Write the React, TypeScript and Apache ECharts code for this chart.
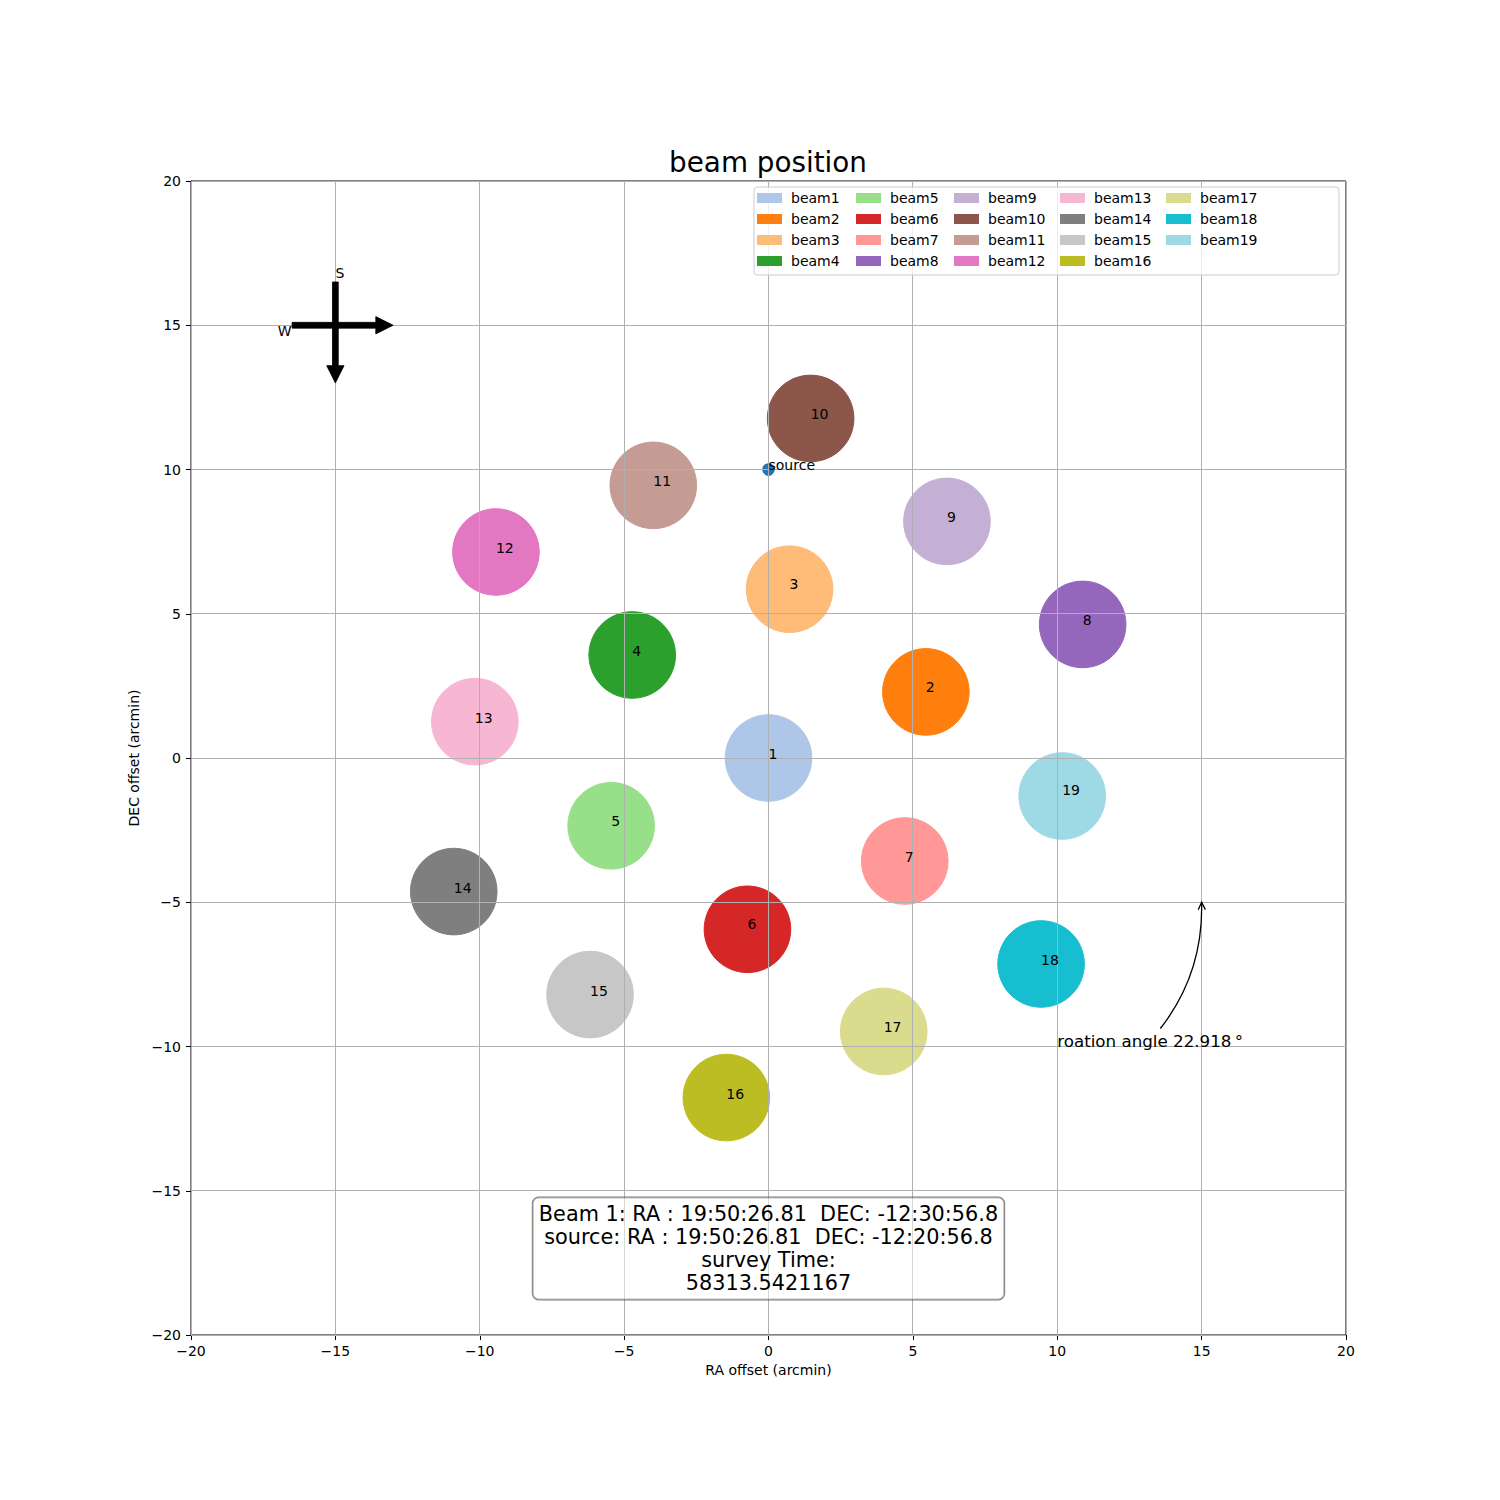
import React, { useEffect, useRef } from 'react';
import * as echarts from 'echarts';

const FONT = 'DejaVu Sans';

// beam centres (arcmin)
const BEAM_NAMES = [
  'beam1', 'beam2', 'beam3', 'beam4', 'beam5', 'beam6', 'beam7', 'beam8', 'beam9', 'beam10',
  'beam11', 'beam12', 'beam13', 'beam14', 'beam15', 'beam16', 'beam17', 'beam18', 'beam19',
];
const BEAM_X = [
  0, 5.45, 0.73, -4.72, -5.45, -0.73, 4.72, 10.88, 6.18, 1.46,
  -3.99, -9.44, -10.17, -10.9, -6.18, -1.46, 3.99, 9.44, 10.17,
];
const BEAM_Y = [
  0, 2.32, 5.88, 3.57, -2.32, -5.88, -3.57, 4.63, 8.2, 11.77,
  9.45, 7.14, 1.26, -4.63, -8.2, -11.77, -9.45, -7.14, -1.26,
];
const BEAM_COLORS = [
  '#aec7e8', '#ff7f0e', '#ffbb78', '#2ca02c', '#98df8a', '#d62728', '#ff9896', '#9467bd', '#c5b0d5', '#8c564b',
  '#c49c94', '#e377c2', '#f7b6d2', '#7f7f7f', '#c7c7c7', '#bcbd22', '#dbdb8d', '#17becf', '#9edae5',
];
const BEAM_RADIUS = 1.5;

const SOURCE_POS = [0, 10];
const SOURCE_COLOR = '#1f77b4';

const AXIS_MIN = -20;
const AXIS_MAX = 20;
const AXIS_STEP = 5;
const GRID_TICKS = [-20, -15, -10, -5, 0, 5, 10, 15, 20];

const COMPASS_CENTER = [-15, 15];
const ROTATION_ANGLE = 22.918;
const ANGLE_TEXT_POS = [10, -10];
const ANGLE_ARROW_TIP = [15, -5];

const INFO_POS = [0, -17];
const INFO_LINES = [
  'Beam 1: RA : 19:50:26.81  DEC: -12:30:56.8',
  'source: RA : 19:50:26.81  DEC: -12:20:56.8',
  'survey Time:',
  '58313.5421167',
];

const LEGEND_COLUMNS = [
  ['beam1', 'beam2', 'beam3', 'beam4'],
  ['beam5', 'beam6', 'beam7', 'beam8'],
  ['beam9', 'beam10', 'beam11', 'beam12'],
  ['beam13', 'beam14', 'beam15', 'beam16'],
  ['beam17', 'beam18', 'beam19'],
];
const LEGEND_LEFT = [757, 856, 954, 1060, 1166];

// layering: patches < grid < texts < info box < legend
const LAYER_PATCH = 0;
const LAYER_GRID = 1;
const LAYER_TEXT = 2;
const LAYER_INFO = 3;
const LAYER_LEGEND_BG = 4;
const LAYER_LEGEND = 5;

const minus = (v: number) => String(v).replace('-', '\u2212');
const crisp = (v: number) => Math.round(v - 0.5) + 0.5;

const smallText = (x: number, y: number, text: string) => ({
  type: 'text',
  x,
  y,
  style: { text, fontSize: 14, fontFamily: FONT, fill: '#000', align: 'left', verticalAlign: 'bottom' },
});

const App: React.FC = () => {
  const chartRef = useRef<HTMLDivElement>(null);

  useEffect(() => {
    if (!chartRef.current) return;
    const chart = echarts.init(chartRef.current, null, { renderer: 'svg' });

    const beamSeries: any[] = BEAM_NAMES.map((name, i) => ({
      name,
      type: 'custom',
      zlevel: LAYER_PATCH,
      silent: true,
      itemStyle: { color: BEAM_COLORS[i] },
      data: [[BEAM_X[i], BEAM_Y[i], BEAM_RADIUS]],
      renderItem: (_params: any, api: any) => {
        const c = api.coord([api.value(0), api.value(1)]);
        const r = api.size([api.value(2), 0])[0];
        const color = api.visual('color');
        return {
          type: 'circle',
          shape: { cx: c[0], cy: c[1], r },
          style: { fill: color, stroke: color, lineWidth: 1 },
        };
      },
    }));

    // matplotlib draws the grid above the beam patches
    const gridSeries = {
      name: 'grid',
      type: 'custom',
      zlevel: LAYER_GRID,
      silent: true,
      data: GRID_TICKS.flatMap((t) => [[t, 0], [t, 1]]),
      renderItem: (_params: any, api: any) => {
        const t = api.value(0);
        const style = { stroke: '#b0b0b0', lineWidth: 1 };
        if (api.value(1) === 0) {
          const a = api.coord([t, AXIS_MIN]);
          const b = api.coord([t, AXIS_MAX]);
          return { type: 'line', shape: { x1: crisp(a[0]), y1: a[1], x2: crisp(b[0]), y2: b[1] }, style };
        }
        const a = api.coord([AXIS_MIN, t]);
        const b = api.coord([AXIS_MAX, t]);
        return { type: 'line', shape: { x1: a[0], y1: crisp(a[1]), x2: b[0], y2: crisp(b[1]) }, style };
      },
    };

    const labelSeries = {
      name: 'labels',
      type: 'custom',
      zlevel: LAYER_TEXT,
      silent: true,
      data: BEAM_X.map((x, i) => [x, BEAM_Y[i], i + 1]),
      renderItem: (_params: any, api: any) => {
        const p = api.coord([api.value(0), api.value(1)]);
        return smallText(p[0], p[1] + 3, String(api.value(2)));
      },
    };

    const sourceSeries = {
      name: 'source',
      type: 'scatter',
      zlevel: LAYER_PATCH,
      silent: true,
      symbolSize: 12.5,
      itemStyle: { color: SOURCE_COLOR, opacity: 1 },
      data: [SOURCE_POS],
    };

    const sourceLabel = {
      name: 'sourceLabel',
      type: 'custom',
      zlevel: LAYER_TEXT,
      silent: true,
      data: [SOURCE_POS],
      renderItem: (_params: any, api: any) => {
        const p = api.coord([api.value(0), api.value(1)]);
        return smallText(p[0], p[1] + 2, 'source');
      },
    };

    // compass: east arrow, south-pointing arrow and the S / W letters
    const compassSeries = {
      name: 'compass',
      type: 'custom',
      zlevel: LAYER_TEXT,
      silent: true,
      data: [0, 1, 2, 3].map((k) => [COMPASS_CENTER[0], COMPASS_CENTER[1], k]),
      renderItem: (_params: any, api: any) => {
        const cx = api.value(0);
        const cy = api.value(1);
        const kind = api.value(2);
        const tail = 1.5;
        const tip = 2.0;
        const w = 0.1;
        const hw = 0.3;
        const hl = 0.6;
        const arrowStyle = { fill: '#000', stroke: '#000', lineWidth: 0.8 };
        if (kind === 0) {
          const east = [
            [cx - tail, cy + w], [cx + tip - hl, cy + w], [cx + tip - hl, cy + hw], [cx + tip, cy],
            [cx + tip - hl, cy - hw], [cx + tip - hl, cy - w], [cx - tail, cy - w],
          ].map((p) => api.coord(p));
          return { type: 'polygon', shape: { points: east }, style: arrowStyle };
        }
        if (kind === 1) {
          const south = [
            [cx - w, cy + tail], [cx - w, cy - tip + hl], [cx - hw, cy - tip + hl], [cx, cy - tip],
            [cx + hw, cy - tip + hl], [cx + w, cy - tip + hl], [cx + w, cy + tail],
          ].map((p) => api.coord(p));
          return { type: 'polygon', shape: { points: south }, style: arrowStyle };
        }
        if (kind === 2) {
          const s = api.coord([cx, cy + 1.6]);
          return smallText(s[0], s[1] + 1, 'S');
        }
        const wp = api.coord([cx - 2, cy - 0.4]);
        return smallText(wp[0], wp[1] + 1, 'W');
      },
    };

    // rotation angle annotation with a curved arrow (arc3, rad 0.2)
    const angleSeries = {
      name: 'angle',
      type: 'custom',
      zlevel: LAYER_TEXT,
      silent: true,
      data: [0, 1, 2].map((k) => [ANGLE_TEXT_POS[0], ANGLE_TEXT_POS[1], ANGLE_ARROW_TIP[0], ANGLE_ARROW_TIP[1], k]),
      renderItem: (_params: any, api: any) => {
        const anchor = api.coord([api.value(0), api.value(1)]);
        const tipPt = api.coord([api.value(2), api.value(3)]);
        const kind = api.value(4);
        if (kind === 2) {
          return {
            type: 'text',
            x: anchor[0],
            y: anchor[1] + 3,
            style: {
              text: `roation angle ${ROTATION_ANGLE}\u2009°`,
              fontSize: 16.7,
              fontFamily: FONT,
              fill: '#000',
              align: 'left',
              verticalAlign: 'bottom',
            },
          };
        }
        const p0 = [anchor[0] + 93, anchor[1] - 6];
        const rad = 0.2;
        const dx = tipPt[0] - p0[0];
        const dyUp = -(tipPt[1] - p0[1]);
        const mid = [(p0[0] + tipPt[0]) / 2, (p0[1] + tipPt[1]) / 2];
        const ctrl = [mid[0] + rad * dyUp, mid[1] + rad * dx];
        const t0 = 0.1;
        const bez = (a: number, b: number, c: number, t: number) =>
          (1 - t) * (1 - t) * a + 2 * t * (1 - t) * b + t * t * c;
        const start = [bez(p0[0], ctrl[0], tipPt[0], t0), bez(p0[1], ctrl[1], tipPt[1], t0)];
        const c2 = [ctrl[0] + (tipPt[0] - ctrl[0]) * t0, ctrl[1] + (tipPt[1] - ctrl[1]) * t0];
        const lineStyle = { stroke: '#000', lineWidth: 1.3, fill: null };
        if (kind === 0) {
          return {
            type: 'bezierCurve',
            shape: { x1: start[0], y1: start[1], x2: tipPt[0], y2: tipPt[1], cpx1: c2[0], cpy1: c2[1] },
            style: lineStyle,
          };
        }
        const ddx = tipPt[0] - c2[0];
        const ddy = tipPt[1] - c2[1];
        const len = Math.hypot(ddx, ddy) || 1;
        const ux = ddx / len;
        const uy = ddy / len;
        const hl = 7.5;
        const hw = 3.6;
        const back = [tipPt[0] - ux * hl, tipPt[1] - uy * hl];
        return {
          type: 'polyline',
          shape: {
            points: [
              [back[0] - uy * hw, back[1] + ux * hw],
              tipPt,
              [back[0] + uy * hw, back[1] - ux * hw],
            ],
          },
          style: lineStyle,
        };
      },
    };

    const infoSeries = {
      name: 'info',
      type: 'custom',
      zlevel: LAYER_INFO,
      silent: true,
      data: [INFO_POS],
      renderItem: (_params: any, api: any) => {
        const p = api.coord([api.value(0), api.value(1)]);
        return {
          type: 'text',
          x: p[0],
          y: p[1],
          style: {
            text: INFO_LINES.join('\n'),
            fontSize: 20.8,
            lineHeight: 23,
            fontFamily: FONT,
            fill: '#000',
            align: 'center',
            verticalAlign: 'middle',
            backgroundColor: 'rgba(255,255,255,0.5)',
            borderColor: 'rgba(0,0,0,0.5)',
            borderWidth: 1,
            borderRadius: 6,
            padding: [5, 6, 5, 6],
          },
        };
      },
    };

    const legends = LEGEND_COLUMNS.map((names, i) => ({
      orient: 'vertical',
      left: LEGEND_LEFT[i],
      top: 191,
      padding: 0,
      itemWidth: 25,
      itemHeight: 10,
      itemGap: 7,
      icon: 'rect',
      selectedMode: false,
      zlevel: LAYER_LEGEND,
      data: names,
      textStyle: {
        fontSize: 14,
        lineHeight: 14,
        fontFamily: FONT,
        color: '#000',
        padding: [0, 0, 0, 4],
      },
    }));

    const axisCommon = {
      type: 'value',
      min: AXIS_MIN,
      max: AXIS_MAX,
      interval: AXIS_STEP,
      nameLocation: 'middle',
      nameTextStyle: { fontSize: 14, fontFamily: FONT, color: '#000' },
      axisLine: { show: true, onZero: false, lineStyle: { color: '#000', width: 1 } },
      axisTick: { show: true, length: 5, lineStyle: { color: '#000', width: 1 } },
      splitLine: { show: false },
    };

    chart.setOption({
      animation: false,
      textStyle: { fontFamily: FONT },
      title: {
        text: 'beam position',
        left: 768,
        top: 148,
        padding: 0,
        textAlign: 'center',
        textStyle: { fontSize: 27.8, fontWeight: 'normal', color: '#000', fontFamily: FONT },
      },
      grid: {
        left: 191,
        top: 181,
        right: 154,
        bottom: 165,
        show: true,
        borderColor: '#000',
        borderWidth: 1,
        backgroundColor: 'transparent',
        zlevel: LAYER_GRID,
      },
      xAxis: {
        ...axisCommon,
        zlevel: LAYER_GRID,
        name: 'RA offset (arcmin)',
        nameGap: 28,
        axisLabel: { fontSize: 14, color: '#000', margin: 9, fontFamily: FONT, formatter: minus },
      },
      yAxis: {
        ...axisCommon,
        zlevel: LAYER_GRID,
        name: 'DEC offset (arcmin)',
        nameGap: 44,
        axisLabel: { fontSize: 14, color: '#000', margin: 10, fontFamily: FONT, formatter: minus },
      },
      legend: legends,
      graphic: [
        {
          type: 'rect',
          zlevel: LAYER_LEGEND_BG,
          silent: true,
          shape: { x: 754, y: 187, width: 585, height: 88, r: 3 },
          style: { fill: 'rgba(255,255,255,0.8)', stroke: '#cccccc', lineWidth: 1 },
        },
      ],
      series: [
        ...beamSeries,
        sourceSeries,
        gridSeries,
        labelSeries,
        sourceLabel,
        compassSeries,
        angleSeries,
        infoSeries,
      ],
    });

    return () => {
      chart.dispose();
    };
  }, []);

  return (
    <div
      ref={chartRef}
      style={{ position: 'absolute', left: 0, top: 0, width: '1500px', height: '1500px', background: '#fff' }}
    />
  );
};

export default App;
